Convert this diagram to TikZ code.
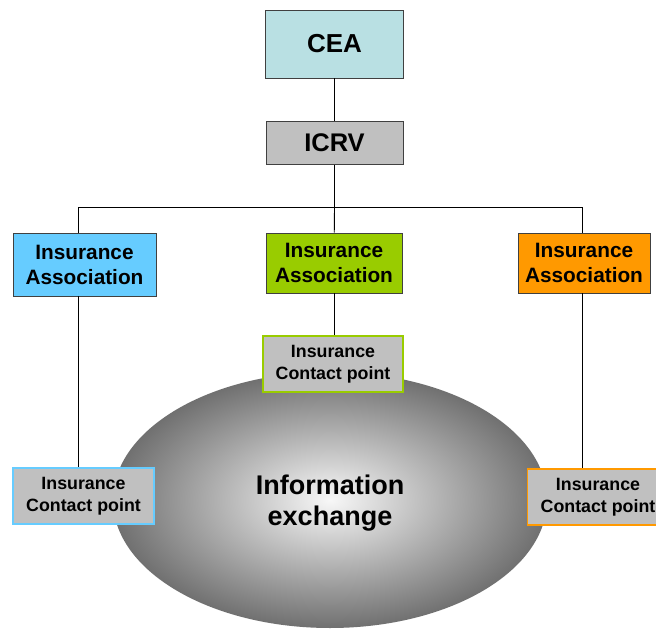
\documentclass[tikz,border=0pt]{standalone}
\usepackage{fontspec}
\setmainfont{Liberation Sans}
\begin{document}
\begin{tikzpicture}[x=1pt,y=-1pt,
  box/.style={draw=black!75,line width=0.9pt,inner sep=0pt,align=center,font=\bfseries},
  assoc/.style={box,minimum width=142pt,minimum height=62pt,font=\bfseries\fontsize{20.8}{25}\selectfont},
  contact/.style={draw,line width=1.3pt,fill=cpgray,inner sep=0pt,align=center,minimum width=141pt,minimum height=56pt,font=\bfseries\fontsize{17.8}{22}\selectfont},
  link/.style={line width=0.9pt,black}]
\definecolor{ceafill}{HTML}{B9E0E3}
\definecolor{cpgray}{HTML}{C0C0C0}
\definecolor{iablue}{HTML}{66CCFF}
\definecolor{iagreen}{HTML}{99CC00}
\definecolor{iaorange}{HTML}{FF9900}
\useasboundingbox (0,0) rectangle (656,629);
\fill[white] (0,0) rectangle (656,629);
% ellipse
\shade[inner color=white!97!black,outer color=black!56,shading=radial] (330,500) ellipse [x radius=217pt,y radius=128pt];
\node[font=\bfseries\fontsize{27}{31}\selectfont,align=center] (info) at (330,503) {Information\\exchange};
% top
\node[box,fill=ceafill,minimum width=138pt,minimum height=68pt,font=\bfseries\fontsize{26}{30}\selectfont] (cea) at (334.5,44) {CEA};
\node[box,fill=cpgray,minimum width=137pt,minimum height=43pt,font=\bfseries\fontsize{25.5}{30}\selectfont] (icrv) at (334.5,143) {ICRV};
% associations
\node[assoc,fill=iablue,minimum width=143pt,minimum height=63pt] (ia1) at (84.5,264.5) {Insurance\\Association};
\node[assoc,fill=iagreen,minimum width=136pt,minimum height=60pt] (ia2) at (334,263) {Insurance\\Association};
\node[assoc,fill=iaorange,minimum width=132pt,minimum height=60pt] (ia3) at (584,263) {Insurance\\Association};
% contact points
\node[contact,draw=iagreen,minimum width=140pt] (cp2) at (333,364) {Insurance\\Contact point};
\node[contact,draw=iablue] (cp1) at (83.5,496) {Insurance\\Contact point};
\node[contact,draw=iaorange] (cp3) at (598,497) {Insurance\\Contact point};
% links
\coordinate (bus) at (334.5,207);
\coordinate (busL) at (78,207);
\coordinate (busR) at (582,207);
\draw[link] (cea) -- (icrv);
\draw[link] (icrv) -- (bus);
\draw[link] (busL) -- (busR);
\draw[link] (busL) -- (busL |- ia1.north);
\draw[link] (bus) -- (ia2);
\draw[link] (busR) -- (busR |- ia3.north);
\draw[link] (busL |- ia1.south) -- (busL |- cp1.north);
\draw[link] (ia2) -- (ia2 |- cp2.north);
\draw[link] (busR |- ia3.south) -- (busR |- cp3.north);
\end{tikzpicture}
\end{document}
